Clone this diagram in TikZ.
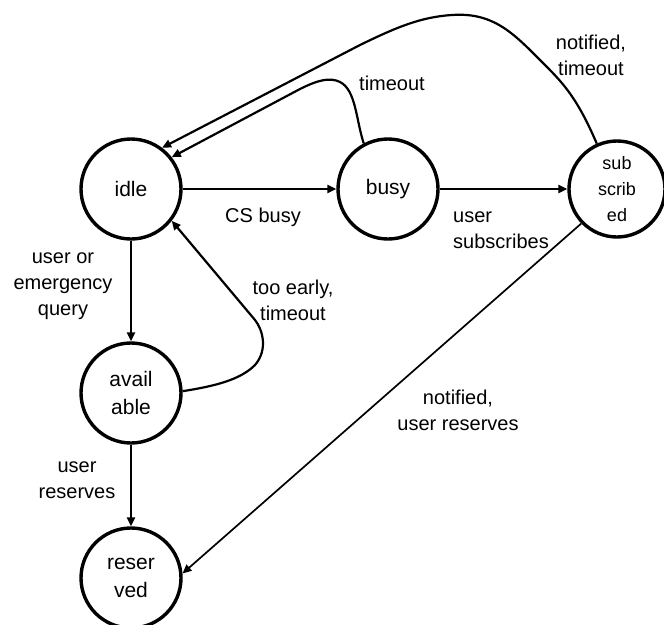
\documentclass[tikz,border=0pt]{standalone}
\usepackage{fontspec}
\setmainfont{Liberation Sans}
\usetikzlibrary{arrows.meta}

\tikzset{
  state/.style={circle, draw, line width=3.4pt, minimum size=100pt, inner sep=0pt,
    align=center, font=\fontsize{21}{28}\selectfont},
  edge/.style={line width=2.2pt, -{Triangle[length=9pt,width=8pt]}},
  lbl/.style={align=center, inner sep=0pt, font=\fontsize{20}{26}\selectfont},
}

\begin{document}
\begin{tikzpicture}[x=1pt, y=-1pt]
  \useasboundingbox (0,0) rectangle (664,624);

  % states
  \node[state] (idle)  at (131,189) {idle};
  \node[state] (busy)  at (388,189) {busy};
  \node[state, minimum size=96pt, font=\fontsize{18}{26}\selectfont] (sub) at (617,189) {sub\\scrib\\ed};
  \node[state] (avail) at (131,393) {avail\\able};
  \node[state] (res)   at (131,578) {reser\\ved};

  % transitions
  \draw[edge] (idle) -- (busy);
  \draw[edge] (busy) -- (sub);
  \draw[edge] (idle) -- (avail);
  \draw[edge] (avail) -- (res);
  \draw[edge, line width=1.7pt] (sub.224) -- (res.5);

  \draw[edge] (busy.118) .. controls (356,120) and (356,90) .. (340,82)
              .. controls (330,77) and (318,80) .. (300,89) -- (idle.38);
  \draw[edge] (sub.114) .. controls (578,100) and (565,85) .. (545,65)
              .. controls (515,35) and (495,12) .. (452,15)
              .. controls (420,17) and (395,28) .. (360,45) -- (idle.53);
  \draw[edge] (avail.2) .. controls (215,386) and (240,380) .. (255,365)
              .. controls (268,350) and (263,330) .. (255,320) -- (idle.-38);

  % transition labels
  \node[lbl] (l1) at (263,217) {CS busy};
  \node[lbl, anchor=west, align=left] (l2) at (453,230) {user\\subscribes};
  \node[lbl] (l3) at (392,83) {timeout};
  \node[lbl] (l4) at (591,55) {notified,\\timeout};
  \node[lbl] (l5) at (63,286) {user or\\emergency\\query};
  \node[lbl] (l6) at (293,300) {too early,\\timeout};
  \node[lbl] (l7) at (77,480) {user\\reserves};
  \node[lbl] (l8) at (458,410) {notified,\\user reserves};
\end{tikzpicture}
\end{document}
